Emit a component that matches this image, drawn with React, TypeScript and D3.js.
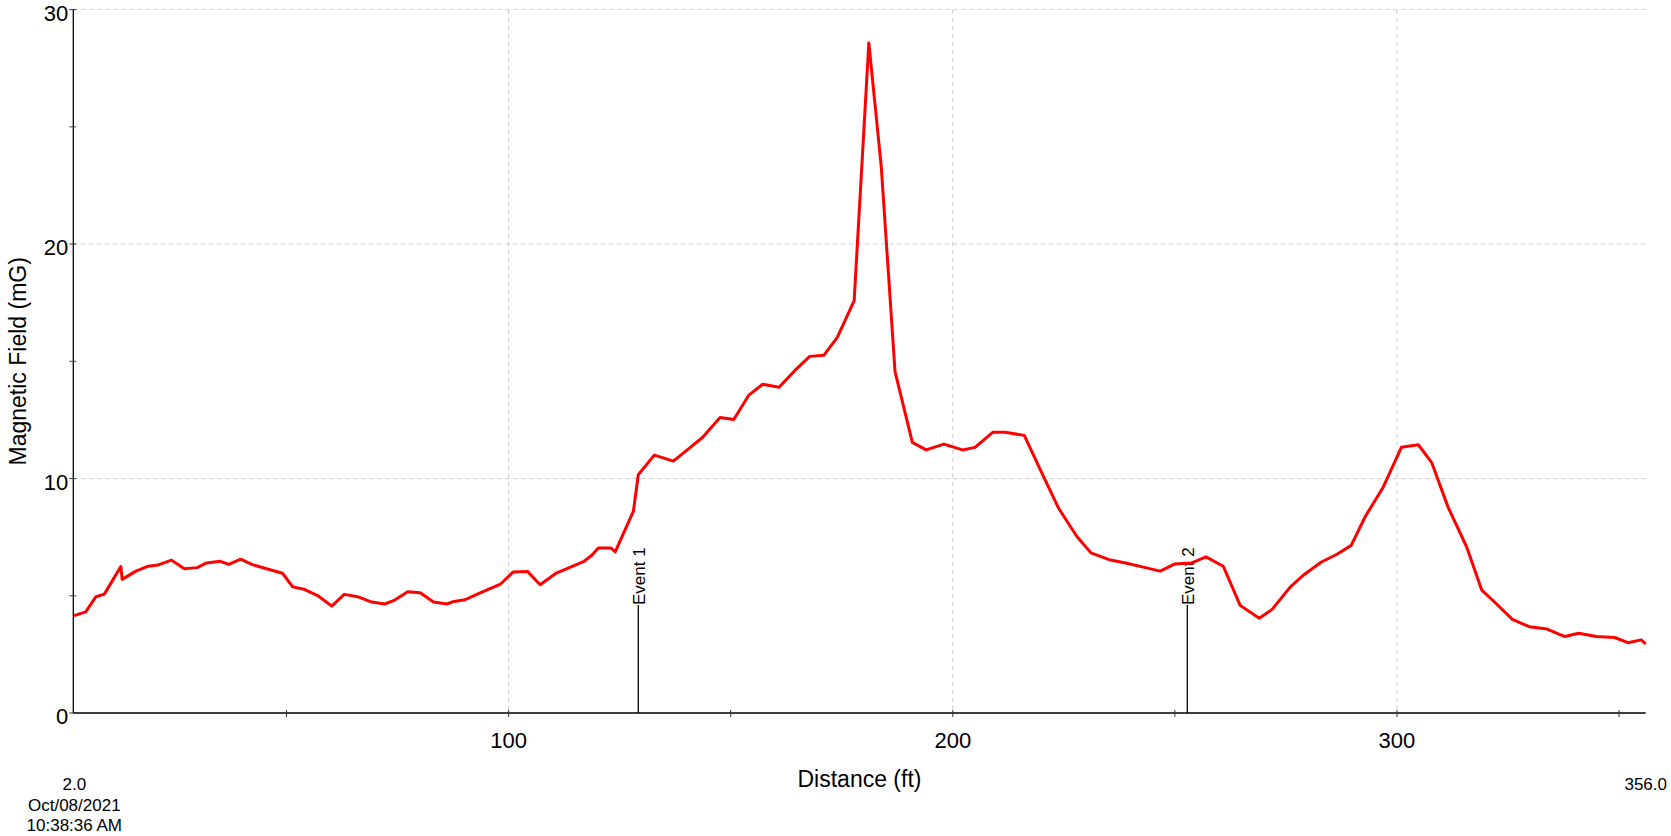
import React from "react";
import * as d3 from "d3";

const distance = [
  2, 4.8, 7.1, 9.0, 12.7, 13.0, 16.1, 18.9, 21.0, 24.1, 27.0, 29.9, 32.0, 35.1, 37.0, 39.7,
  42.3, 45.9, 49.1, 51.4, 53.9, 57.0, 60.2, 63.0, 66.0, 69.2, 72.1, 74.1, 77.3, 80.1, 83.1,
  86.1, 87.7, 90.2, 92.6, 95.4, 98.2, 101.0, 104.3, 107.1, 110.6, 117.0, 118.8, 120.2, 123.0,
  124.0, 128.1, 129.2, 132.8, 137.1, 140.3, 143.7, 147.6, 150.7, 154.1, 157.2, 160.9, 164.4,
  167.8, 171.0, 174.0, 177.8, 181.1, 183.9, 187.0, 190.9, 194.0, 198.0, 202.2, 205.0, 209.0,
  211.8, 216.1, 220.3, 223.9, 227.9, 231.1, 235.2, 238.9, 242.9, 246.7, 249.9, 253.8, 257.0,
  260.9, 264.7, 269.0, 271.9, 276.0, 279.2, 283.0, 286.5, 289.7, 292.9, 296.9, 301.0, 304.8,
  307.8, 311.5, 315.7, 319.1, 322.3, 326.0, 329.8, 333.8, 337.8, 340.9, 344.9, 349.0, 352.0,
  355.0, 356.0,
];

const field = [
  4.14, 4.31, 4.96, 5.07, 6.25, 5.7, 6.05, 6.26, 6.31, 6.52, 6.15, 6.2, 6.4, 6.47, 6.34, 6.56,
  6.33, 6.13, 5.96, 5.38, 5.28, 5.01, 4.56, 5.06, 4.96, 4.73, 4.65, 4.79, 5.17, 5.13, 4.73,
  4.65, 4.76, 4.83, 5.04, 5.27, 5.5, 6.01, 6.03, 5.47, 5.95, 6.47, 6.74, 7.04, 7.04,
  6.87, 8.61, 10.16, 11.0, 10.74, 11.23, 11.76, 12.6, 12.52, 13.56, 14.02, 13.89, 14.6,
  15.21, 15.26, 16.02, 17.59, 28.58, 23.3, 14.56, 11.54, 11.22, 11.47, 11.22, 11.33, 11.97,
  11.97, 11.84, 10.13, 8.71, 7.54, 6.83, 6.54, 6.4, 6.22, 6.05, 6.35, 6.4, 6.66,
  6.26, 4.59, 4.04, 4.42, 5.38, 5.92, 6.44, 6.77, 7.15, 8.39, 9.63, 11.33, 11.44,
  10.69, 8.78, 7.08, 5.24, 4.67, 3.99, 3.68, 3.58, 3.26, 3.4, 3.26, 3.22, 3.0,
  3.12, 2.95,
];

const xMajorTicks = [100, 200, 300];
const xMinorTicks = [50, 150, 250, 350];
const yMajorTicks = [0, 10, 20, 30];
const yMinorTicks = [5, 15, 25];

const eventNames = ["Event 1", "Event 2"];
const eventDistances = [129.2, 252.8];

const startLabel = ["2.0", "Oct/08/2021", "10:38:36 AM"];
const endLabel = "356.0";
const xTitle = "Distance (ft)";
const yTitle = "Magnetic Field (mG)";

const W = 1671;
const H = 836;
const left = 73.3;
const right = 1645.7;
const top = 9.6;
const bottom = 713;

const FONT = "'Liberation Sans', Arial, Helvetica, sans-serif";

export default function App() {
  const x = d3.scaleLinear().domain([2, 356]).range([left, right]);
  const y = d3.scaleLinear().domain([0, 30]).range([bottom, top]);
  const pts = distance.map((d, i) => [d, field[i]] as [number, number]);
  const line = d3
    .line<[number, number]>()
    .x((d) => x(d[0]))
    .y((d) => y(d[1]));

  return (
    <svg
      width={W}
      height={H}
      style={{ position: "absolute", left: 0, top: 0, background: "#fff" }}
      fontFamily={FONT}
    >
      <rect x={0} y={0} width={W} height={H} fill="#fff" />
      {/* grid */}
      {yMajorTicks
        .filter((t) => t > 0)
        .map((t) => (
          <line
            key={"gy" + t}
            x1={left}
            x2={right}
            y1={y(t)}
            y2={y(t)}
            stroke="#c8c8c8"
            strokeWidth={1}
            strokeDasharray="4,4"
          />
        ))}
      {xMajorTicks.map((t) => (
        <line
          key={"gx" + t}
          x1={x(t)}
          x2={x(t)}
          y1={top}
          y2={bottom}
          stroke="#c8c8c8"
          strokeWidth={1}
          strokeDasharray="4,4"
        />
      ))}

      {/* events */}
      {eventDistances.map((d, i) => (
        <g key={"ev" + i}>
          <line x1={x(d)} x2={x(d)} y1={bottom} y2={605} stroke="#000" strokeWidth={1.3} />
          <text
            transform={`translate(${x(d) + 6.5},605) rotate(-90)`}
            fontSize={17}
            fill="#000"
          >
            {eventNames[i]}
          </text>
        </g>
      ))}

      {/* data line */}
      <path d={line(pts) || ""} fill="none" stroke="#ff0000" strokeWidth={3} strokeLinejoin="round" />

      {/* axes */}
      <line x1={left} x2={left} y1={top} y2={bottom} stroke="#000" strokeWidth={1.3} />
      <line x1={left} x2={right} y1={bottom} y2={bottom} stroke="#000" strokeWidth={1.3} />

      {yMajorTicks.map((t) => (
        <g key={"yt" + t}>
          <line x1={left - 4} x2={left + 3} y1={y(t)} y2={y(t)} stroke="#333" strokeWidth={1} />
          <text x={left - 5} y={y(t) + 11} textAnchor="end" fontSize={22} fill="#000">
            {t}
          </text>
        </g>
      ))}
      {yMinorTicks.map((t) => (
        <line key={"ym" + t} x1={left - 4} x2={left + 3} y1={y(t)} y2={y(t)} stroke="#444" strokeWidth={1} />
      ))}
      {xMajorTicks.map((t) => (
        <g key={"xt" + t}>
          <line x1={x(t)} x2={x(t)} y1={bottom - 3} y2={bottom + 4} stroke="#333" strokeWidth={1} />
          <text x={x(t)} y={bottom + 35} textAnchor="middle" fontSize={22} fill="#000">
            {t}
          </text>
        </g>
      ))}
      {xMinorTicks.map((t) => (
        <line key={"xm" + t} x1={x(t)} x2={x(t)} y1={bottom - 3} y2={bottom + 4} stroke="#333" strokeWidth={1} />
      ))}

      {/* titles */}
      <text x={(left + right) / 2} y={787} textAnchor="middle" fontSize={23} fill="#000">
        {xTitle}
      </text>
      <text
        transform={`translate(25.5,${(top + bottom) / 2}) rotate(-90)`}
        textAnchor="middle"
        fontSize={23}
        fill="#000"
      >
        {yTitle}
      </text>

      {/* start / end labels */}
      {startLabel.map((s, i) => (
        <text key={"sl" + i} x={x(2) + 1} y={790 + i * 20.5} textAnchor="middle" fontSize={17} fill="#000">
          {s}
        </text>
      ))}
      <text x={x(356)} y={790} textAnchor="middle" fontSize={17} fill="#000">
        {endLabel}
      </text>
    </svg>
  );
}
